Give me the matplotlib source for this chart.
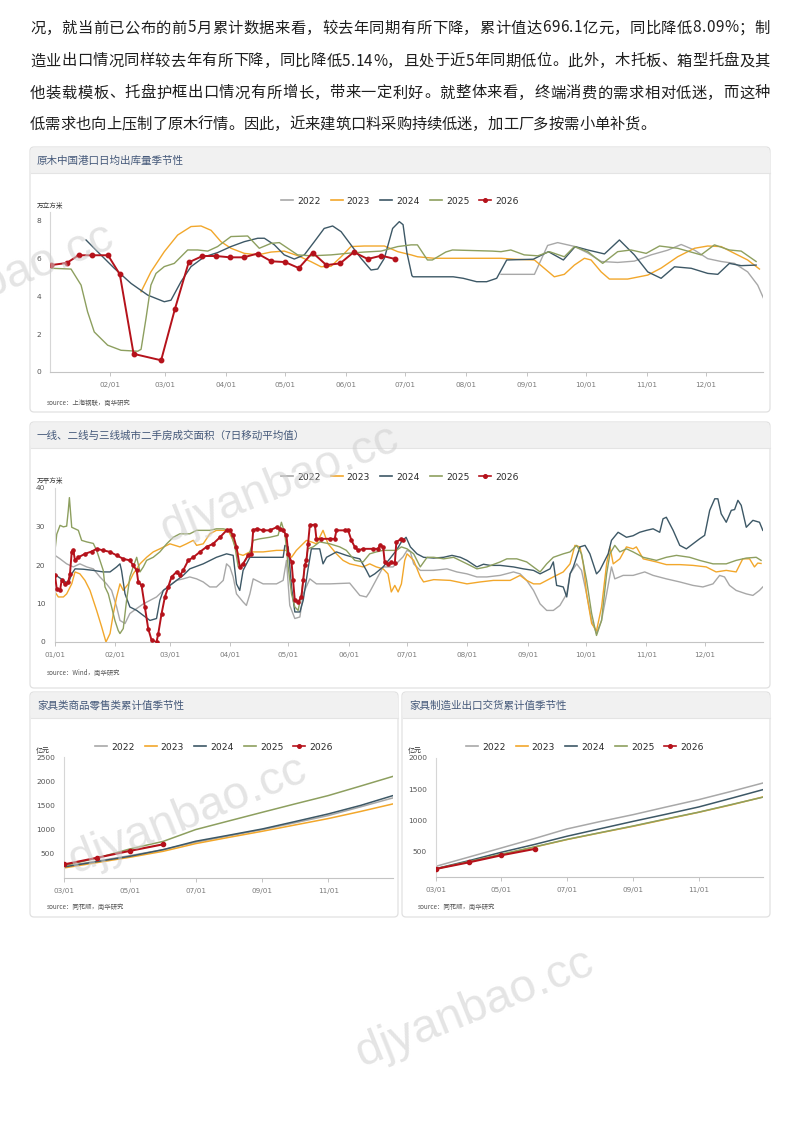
import matplotlib
matplotlib.use('Agg')
import matplotlib.pyplot as plt
from matplotlib.patches import FancyBboxPatch, Rectangle
from matplotlib.lines import Line2D
from matplotlib.legend import Legend
from matplotlib.font_manager import FontProperties
import pandas as pd

plt.rcParams['font.family'] = ['Noto Sans CJK SC', 'DejaVu Sans']

# ---------------- text ----------------
para_lines = [
    "况，就当前已公布的前5月累计数据来看，较去年同期有所下降，累计值达696.1亿元，同比降低8.09%；制",
    "造业出口情况同样较去年有所下降，同比降低5.14%，且处于近5年同期低位。此外，木托板、箱型托盘及其",
    "他装载模板、托盘护框出口情况有所增长，带来一定利好。就整体来看，终端消费的需求相对低迷，而这种",
    "低需求也向上压制了原木行情。因此，近来建筑口料采购持续低迷，加工厂多按需小单补货。",
]
titles = ["原木中国港口日均出库量季节性",
          "一线、二线与三线城市二手房成交面积（7日移动平均值）",
          "家具类商品零售类累计值季节性",
          "家具制造业出口交货累计值季节性"]
units = ["万立方米", "万平方米", "亿元", "亿元"]
sources = ["source：上海钢联，南华研究", "source：Wind，南华研究",
           "source：同花顺，南华研究", "source：同花顺，南华研究"]

years = ['2022', '2023', '2024', '2025', '2026']
colors = ['#a8a8a8', '#f2a72b', '#3d5866', '#8d9f5f', '#b5121b']

month_ticks = ['01-01', '02-01', '03-01', '04-01', '05-01', '06-01',
               '07-01', '08-01', '09-01', '10-01', '11-01', '12-01']
month_labels = [m.replace('-', '/') for m in month_ticks]

# ---------------- chart 1: log port outbound (day-of-year, value) ----------------
log_2022 = [(229.8,5.17),(246.8,5.17),(253.5,6.7),(258.6,6.85),(267.1,6.65),(273.9,6.3),(280.7,5.85),
            (289.1,5.8),(297.6,5.87),(306.1,6.2),(314.6,6.45),(321.4,6.75),(328.2,6.45),(334.9,6.0),
            (341.7,5.85),(348.5,5.75),(355.2,5.3),(360.3,4.6),(363.7,3.8)]
log_2023 = [(46.8,4.25),(51.8,5.3),(58.6,6.37),(65.4,7.25),(72.2,7.7),(77.3,7.73),(82.4,7.5),(87.4,6.9),
            (92.5,6.55),(99.3,6.28),(106.1,6.2),(112.9,6.35),(119.6,6.4),(126.4,6.16),(133.2,5.84),
            (138.3,5.57),(143.4,5.6),(148.5,6.1),(153.5,6.64),(160.3,6.67),(170.5,6.67),(177.3,6.37),
            (184.1,6.2),(187.4,6.1),(195.9,6.02),(212.9,6.02),(229.8,6.02),(236.6,5.97),(246.8,5.93),
            (251.8,5.49),(256.9,5.04),(262.0,5.17),(267.1,5.66),(272.2,6.02),(275.6,5.93),(280.7,5.3),
            (284.9,4.92),(294.2,4.92),(304.4,5.13),(311.2,5.5),(319.6,6.1),(328.2,6.55),(334.9,6.67),
            (341.7,6.64),(348.5,6.28),(355.2,5.93),(361.2,5.45)]
log_2024 = [(18.8,6.99),(24.7,6.37),(33.2,5.49),(41.7,4.69),(50.2,4.07),(58.6,3.72),(62.0,3.8),(67.1,4.78),
            (72.2,5.58),(79.0,6.1),(85.7,6.32),(92.5,6.64),(99.3,6.9),(106.1,7.08),(109.5,7.08),
            (114.6,6.73),(119.6,6.2),(124.7,5.98),(129.8,6.2),(134.9,6.9),(139.9,7.6),(144.2,7.73),
            (148.5,7.43),(153.5,6.73),(158.6,6.02),(163.7,5.4),(167.1,5.45),(170.5,6.02),(174.7,7.6),
            (178.1,7.96),(180.0,7.8),(182.0,6.3),(184.5,5.1),(185.1,5.04),(205.5,5.04),(210.6,4.96),
            (217.4,4.78),(222.5,4.78),(227.6,4.96),(232.7,5.93),(246.2,5.97),(253.9,6.37),(261.5,5.93),
            (267.5,6.64),(273.9,6.46),(282.4,6.25),(290.0,6.99),(297.6,6.2),(304.4,5.3),(311.2,4.96),
            (318.0,5.57),(326.5,5.49),(334.9,5.22),(340.0,5.17),(345.9,5.75),(351.9,5.63),(359.5,5.66)]
log_2025 = [(1.3,5.49),(11.2,5.45),(16.3,4.6),(19.6,3.19),(23.0,2.12),(29.8,1.42),(36.6,1.15),(45.1,1.1),
            (46.8,1.2),(49.3,2.83),(51.8,4.6),(54.4,5.22),(58.6,5.58),(63.7,5.75),(70.5,6.46),(75.6,6.46),
            (80.7,6.4),(85.7,6.64),(92.5,7.17),(101.0,7.2),(106.9,6.55),(112.9,6.81),(117.1,6.85),
            (126.4,6.2),(133.2,6.15),(143.4,6.2),(153.5,6.3),(160.3,6.35),(168.8,6.4),(177.3,6.64),
            (184.1,6.73),(187.3,6.73),(192.4,5.93),(194.9,5.93),(201.7,6.35),(205.1,6.46),(225.5,6.4),
            (229.8,6.37),(234.8,6.46),(241.6,6.2),(248.5,6.15),(254.4,6.37),(262.0,6.1),(267.1,6.64),
            (273.9,6.37),(281.5,5.75),(289.1,6.37),(295.9,6.46),(303.6,6.28),(310.4,6.67),(319.6,6.55),
            (331.5,6.2),(338.3,6.73),(345.9,6.46),(351.9,6.4),(359.5,5.85)]
log_2026 = [(1,5.66),(9,5.77),(15,6.18),(22,6.18),(30,6.18),(36,5.17),(43,0.96),(57,0.62),(64,3.33),
            (71,5.8),(78,6.14),(85,6.14),(92,6.07),(99,6.07),(106,6.27),(113,5.86),(120,5.82),(127,5.5),
            (134,6.32),(141,5.66),(148,5.75),(155,6.35),(162,5.98),(169,6.16),(176,5.98)]

# ---------------- chart 2: second-hand housing 7d MA (day-of-year, value) ----------------
house_2022 = [(0,22.5),(2.6,21.6),(6,20.3),(9.4,19.5),(12.8,20.3),(16.3,19.5),(19.7,19.0),(23.1,16.9),
              (26.5,15.1),(29.1,13.4),(31.7,9.1),(33.4,5.6),(36,4.8),(38.5,7.4),(42,8.7),(45.4,9.9),
              (48.8,10.8),(52.2,11.7),(55.7,13.4),(59.1,14.7),(62.5,16.0),(65.9,16.4),(69.3,16.9),
              (72.8,16.4),(76.2,15.6),(79.6,14.3),(83,14.3),(86.5,16.0),(88.2,20.3),(89.9,19.5),
              (91.6,16.9),(93.3,12.5),(96.7,10.4),(98.4,9.5),(100.2,12.5),(101.9,16.4),(107,15.1),
              (113.9,15.1),(117.3,16.0),(119,21.2),(120.7,9.5),(123.3,6.1),(125.9,6.5),(127.6,12.5),
              (131,16.4),(134.4,15.1),(141.3,15.1),(151.5,15.3),(156.7,12.1),(160.1,11.7),(161.8,13.0),
              (168.7,19.5),(173.8,19.5),(178.9,22.1),(181,23.8),(182.7,23.4),(184.4,20.3),(187.8,18.6),
              (194.7,18.6),(201.5,19.0),(206.6,18.2),(211.8,17.7),(216.9,16.9),(222,16.9),(228.9,17.3),
              (235.7,18.2),(239.1,17.7),(242.5,16.0),(246,13.4),(249.4,9.9),(252.8,8.2),(256.2,8.2),
              (259.6,9.5),(263.1,12.5),(264.8,17.7),(268.2,20.3),(270.7,18.6),(273.3,12.5),(275.9,5.6),
              (278.4,2.2),(281,5.6),(283.6,12.5),(286.1,19.5),(287.8,16.4),(292.1,17.3),(297.2,17.3),
              (303.2,18.2),(307.5,17.3),(314.3,16.4),(321.2,15.6),(328,14.7),(333.1,14.3),(338.3,15.1),
              (341.7,17.3),(344.2,16.9),(346.8,14.7),(350.2,13.4),(355.4,12.5),(358.8,12.1),(362.2,13.4),
              (363.9,14.3)]
house_2023 = [(0,13.0),(1.7,11.7),(4.3,11.7),(6,12.5),(8.6,15.1),(10.3,18.2),(12.8,17.7),(15.4,16.0),
              (18,13.4),(21.4,8.2),(24,3.9),(26.2,0.0),(28.3,2.2),(30,7.4),(31.7,11.7),(33.4,15.1),
              (35.1,13.4),(37.7,15.1),(40.2,17.7),(43.7,20.3),(47.1,22.0),(50.5,23.4),(53.9,24.2),
              (59.1,25.5),(64.2,24.7),(67.6,25.5),(71.1,26.4),(72.8,25.1),(76.2,25.5),(79.6,28.1),
              (83,29.0),(86.5,29.0),(89,29.0),(91.6,26.4),(94.2,22.9),(96.7,22.5),(100.2,23.4),
              (107,23.4),(113.9,23.8),(119,23.8),(121.6,22.0),(124.1,23.8),(126.7,25.1),(129.3,26.4),
              (131.8,26.0),(134.4,25.5),(137.8,29.0),(140.4,25.5),(144.7,22.9),(148.1,21.2),(151.5,20.3),
              (155,19.9),(158.4,19.5),(161.8,20.3),(165.2,19.5),(168.7,19.0),(171.2,17.7),(172.9,13.0),
              (174.7,14.7),(176.4,13.0),(178.1,15.1),(179.8,21.2),(181,22.9),(184.4,21.2),(187.8,16.9),
              (189.5,15.6),(194.7,16.2),(203.2,16.0),(211.8,15.1),(218.6,15.6),(225.4,16.0),(234,16.0),
              (239.1,17.3),(242.5,16.0),(246,15.1),(249.4,15.1),(256.2,16.9),(261.3,18.2),(264.8,20.3),
              (267.3,25.1),(269.9,24.7),(271.6,20.3),(273.3,12.5),(275.9,4.8),(278.4,2.9),(281,9.1),
              (283.6,20.3),(285.3,24.7),(287,20.3),(290.4,21.6),(293.8,24.7),(297.2,24.2),(298.9,24.7),
              (302.4,21.6),(309.2,20.8),(314.3,20.1),(321.2,20.1),(328,19.9),(334.8,19.5),(339.9,18.2),
              (345.1,18.6),(350.2,18.2),(353.6,21.6),(357.1,21.6),(359.6,19.5),(361.3,20.5),(363,20.4)]
house_2024 = [(0,17.7),(1.7,16.9),(4.3,16.0),(6.8,15.1),(8.6,17.7),(10.3,19.0),(14.6,18.9),(19.7,18.6),
              (24.8,18.2),(28.3,18.2),(31.7,19.5),(33.4,20.3),(34.2,18.6),(36,12.5),(38.5,9.1),(42,8.2),
              (45.4,6.9),(48.8,5.6),(52.2,6.1),(53.9,10.8),(55.7,13.4),(59.1,14.7),(62.5,16.0),(65.9,17.3),
              (69.3,19.0),(76.2,20.3),(83,22.0),(88.2,22.9),(91.6,22.5),(93.3,15.1),(95,13.4),(96.7,18.6),
              (100.2,22.0),(107,22.0),(113.9,22.0),(117.3,22.0),(118.2,25.1),(119.9,24.7),(121.6,14.3),
              (123.3,7.8),(125.9,7.8),(127.6,10.8),(130.1,19.0),(131.8,24.2),(136.1,24.2),(137.8,20.3),
              (139.6,22.0),(144.7,23.4),(149.8,22.5),(153.3,22.0),(156.7,21.6),(160.1,18.6),(161.8,16.9),
              (164.4,17.7),(168.7,19.5),(172.1,21.6),(175.5,23.8),(178.1,26.0),(180.5,27.2),(182.7,24.7),
              (186.1,22.9),(189.5,22.0),(194.7,21.8),(199.8,22.0),(204.1,22.5),(208.4,22.0),(211.8,21.2),
              (216.9,19.5),(220.3,20.2),(223.7,19.9),(228.9,19.9),(235.7,19.5),(240.8,19.0),(246,18.6),
              (249.4,17.7),(254.5,19.0),(256.2,20.8),(257.9,14.7),(261.3,14.3),(263.1,11.7),(264.8,17.7),
              (266.5,19.5),(269.9,24.7),(272.5,25.1),(275,22.9),(278.4,17.7),(280.1,18.6),(282.7,21.2),
              (284.4,22.9),(286.1,26.4),(289.5,28.5),(293.8,27.2),(297.2,27.6),(300.6,28.5),(304.1,29.0),
              (307.5,29.4),(310.9,28.5),(312.6,32.0),(314.3,32.4),(317.8,29.0),(321.2,25.1),(324.6,24.2),
              (328,25.5),(331.4,26.8),(334,27.7),(336.6,34.2),(339.2,37.2),(340.8,37.2),(342.5,33.3),
              (345.1,31.1),(347.7,34.2),(349.4,34.4),(351.1,36.8),(352.8,35.5),(355.4,29.8),(358.8,31.6),
              (362.2,31.1),(363.9,29.0)]
house_2025 = [(0,23.8),(0.9,28.0),(2.6,30.3),(4.3,29.9),(6,30.1),(6.8,34.0),(7.4,37.5),(8.6,29.8),
              (12,29.0),(13.7,26.4),(16.3,26.0),(19.7,25.6),(21.4,23.8),(23.1,21.2),(24.8,18.6),
              (25.7,14.3),(27.4,12.5),(29.1,9.1),(30.8,5.6),(32.5,3.0),(33.4,2.2),(35.1,3.5),(36.8,10.8),
              (38.5,16.9),(40.2,19.5),(42,22.0),(43.7,18.2),(45.4,19.5),(47.1,21.2),(50.5,22.0),
              (53.9,23.4),(57.4,25.5),(60.8,27.2),(64.2,28.1),(69.3,28.1),(72.8,29.0),(79.6,29.0),
              (83,29.4),(86.5,29.4),(89.9,29.0),(92.5,24.7),(94.2,19.5),(96.7,20.3),(100.2,23.4),
              (101.9,26.4),(105.3,26.8),(110.4,27.2),(114.7,27.7),(116.4,31.1),(118.2,28.1),(119.9,19.5),
              (121.6,12.5),(123.3,9.1),(125,8.2),(126.7,12.5),(128.4,19.5),(130.1,24.2),(132.7,24.7),
              (136.1,26.0),(141.3,25.5),(146.4,24.7),(149.8,23.8),(154.1,21.2),(158.4,20.8),(161.8,22.9),
              (165.2,23.4),(168.7,23.8),(172.1,23.8),(175.5,23.8),(178.1,24.7),(181,24.2),(184.4,22.9),
              (187.8,19.5),(191.3,22.0),(194.7,22.0),(199.8,21.6),(204.9,22.0),(211.8,20.3),(216.9,19.0),
              (222,19.5),(228.9,20.8),(232.3,21.6),(237.4,21.6),(242.5,20.8),(249.4,18.2),(252.8,20.3),
              (256.2,22.0),(261.3,22.9),(264.8,23.4),(268.2,25.1),(270.7,22.9),(273.3,16.0),(275.9,7.4),
              (278.4,1.7),(281,5.6),(283.6,17.7),(285.3,22.9),(287.8,25.1),(290.4,23.4),(293.8,24.2),
              (297.2,23.4),(302.4,22.0),(309.2,21.2),(314.3,22.0),(319.5,22.5),(326.3,22.0),(331.4,21.2),
              (338.3,20.3),(345.1,20.3),(350.2,21.2),(355.4,21.8),(360.5,22.0),(363,21.2)]
house_2026 = [(0,17.3),(0.9,13.8),(2.6,13.4),(3.4,16.0),(5.1,15.1),(6.8,15.6),(7.7,17.7),(8.6,23.4),
              (9.4,23.8),(10.3,21.2),(12,22.0),(15.4,22.9),(18.8,23.5),(21.4,24.2),(24.8,23.8),(28.3,23.4),
              (31.7,22.5),(35.1,21.6),(38.5,21.2),(40.2,19.9),(42,18.6),(42.8,15.6),(44.5,14.7),(46.2,9.1),
              (47.9,3.5),(49.7,0.4),(52.2,0.0),(53.1,2.2),(54.8,7.4),(56.5,11.7),(58.2,14.3),(59.9,16.9),
              (62.5,18.2),(64.2,17.3),(65.9,18.6),(68.5,21.2),(71.1,22.0),(74.5,23.4),(77.9,24.7),
              (81.3,25.5),(84.8,27.2),(88.2,29.0),(89.9,29.0),(91.6,27.7),(93.3,24.7),(95,19.5),(96.7,20.3),
              (99.3,22.5),(101,22.9),(101.9,29.0),(103.6,29.4),(107,29.0),(110.4,29.0),(113.9,29.8),
              (115.6,29.4),(117.3,29.0),(119,27.7),(119.9,22.9),(121.6,20.8),(122.4,16.0),(123.3,10.8),
              (125,10.4),(126.7,11.7),(127.6,16.0),(128.4,19.9),(129.3,21.2),(130.1,25.5),(131,30.3),
              (133.6,30.5),(134.4,26.8),(137,26.8),(141.3,26.8),(143.8,26.8),(144.7,29.0),(149,29.0),
              (150.7,29.0),(152.4,26.4),(154.1,24.7),(155.8,23.8),(158.4,24.2),(163.5,24.2),(166.1,24.2),
              (167,25.1),(168.7,24.7),(169.5,20.8),(171.2,20.2),(172.9,20.8),(174.7,20.4),(175.5,26.0),
              (178.1,26.8),(178.9,26.4)]

# ---------------- charts 3/4: monthly cumulative values ----------------
cum_dates = ['03-01', '04-01', '05-01', '06-01', '07-01', '08-01', '09-01', '10-01', '11-01', '12-01', '12-31']
cum_ticks = ['03-01', '05-01', '07-01', '09-01', '11-01']
retail_2022 = [241, 350, 462, 586, 738, 870, 1000, 1140, 1290, 1470, 1655]
retail_2023 = [207, 320, 428, 552, 710, 840, 966, 1095, 1228, 1375, 1531]
retail_2024 = [228, 340, 448, 586, 759, 885, 1014, 1165, 1324, 1500, 1703]
retail_2025 = [255, 414, 600, 757, 1000, 1180, 1359, 1530, 1703, 1900, 2100]
retail_2026 = [280, 420, 560, 696.1]
export_2022 = [271, 420, 564, 715, 867, 985, 1096, 1215, 1335, 1465, 1601]
export_2023 = [229, 343, 457, 578, 697, 805, 910, 1020, 1133, 1250, 1378]
export_2024 = [234, 362, 495, 620, 750, 870, 989, 1100, 1218, 1355, 1495]
export_2025 = [232, 348, 465, 582, 700, 808, 915, 1025, 1135, 1255, 1375]
export_2026 = [229, 335, 447, 548]


def doy(md):
    return pd.Timestamp('2023-' + md).dayofyear - 1


W, H = 800, 1121
fig = plt.figure(figsize=(W / 100, H / 100), dpi=100)
fig.patch.set_facecolor('white')

bg = fig.add_axes([0, 0, 1, 1], zorder=-5)
bg.set_xlim(0, W)
bg.set_ylim(H, 0)
bg.axis('off')

# ---- paragraph (justified) ----
fp = FontProperties(family=['Noto Sans CJK SC', 'DejaVu Sans'], size=11)
renderer = fig.canvas.get_renderer()
line_y = [28, 61, 93, 124]
for i, line in enumerate(para_lines):
    ws = [renderer.get_text_width_height_descent(c, fp, ismath=False)[0] for c in line]
    total = sum(ws)
    gap = (740 - total) / (len(line) - 1) if i < 3 else 0.0
    x = 30.0
    for c, w in zip(line, ws):
        bg.text(x, line_y[i], c, fontproperties=fp, ha='left', va='center', color='#1e1e1e')
        x += w + gap


# ---- cards ----
def card(x0, y0, x1, y1, hb, title):
    bg.add_patch(FancyBboxPatch((x0, y0), x1 - x0, y1 - y0, boxstyle='round,pad=0,rounding_size=4',
                                fc='white', ec='#e1e1e1', lw=0.9))
    bg.add_patch(FancyBboxPatch((x0 + 0.5, y0 + 0.5), x1 - x0 - 1, hb - y0, boxstyle='round,pad=0,rounding_size=4',
                                fc='#f1f1f1', ec='none'))
    bg.add_patch(Rectangle((x0 + 0.5, y0 + 6), x1 - x0 - 1, hb - y0 - 6, fc='#f1f1f1', ec='none'))
    bg.plot([x0 + 0.5, x1 - 0.5], [hb, hb], color='#e4e4e4', lw=0.8)
    bg.text(x0 + 7, (y0 + hb) / 2 + 0.5, title, fontsize=7.6, color='#45597a', ha='left', va='center')


card(30, 147, 770, 412, 173, titles[0])
card(30, 422, 770, 688, 448, titles[1])
card(30, 692, 398, 917, 718, titles[2])
card(402, 692, 770, 917, 718, titles[3])


def add_axes_px(x0, y0, x1, y1):
    return fig.add_axes([x0 / W, 1 - y1 / H, (x1 - x0) / W, (y1 - y0) / H])


def style(ax, xlim, ylim, xt, xl, yt, ypad):
    ax.set_xlim(*xlim)
    ax.set_ylim(*ylim)
    ax.patch.set_alpha(0)
    for s in ['top', 'right']:
        ax.spines[s].set_visible(False)
    ax.spines['left'].set_color('#d6d6d6')
    ax.spines['left'].set_linewidth(0.8)
    ax.spines['bottom'].set_color('#c4c4c4')
    ax.spines['bottom'].set_linewidth(0.8)
    ax.set_xticks(xt)
    ax.set_xticklabels(xl, fontsize=5.2, color='#7a7a7a', family='DejaVu Sans')
    ax.set_yticks(yt)
    ax.set_yticklabels([str(v) for v in yt], fontsize=5.4, color='#555555', family='DejaVu Sans')
    ax.tick_params(axis='x', length=3, color='#c4c4c4', width=0.7, pad=4)
    ax.tick_params(axis='y', length=0, pad=ypad)


def plot_pairs(ax, pairs, color, lw=1.0, z=2, **kw):
    xs = [p[0] for p in pairs]
    ys = [p[1] for p in pairs]
    ax.plot(xs, ys, color=color, lw=lw, zorder=z, solid_joinstyle='round', **kw)


def legend(cx, cy):
    handles = []
    for y, c in zip(years, colors):
        if y == '2026':
            handles.append(Line2D([], [], color=c, lw=1.2, marker='o', ms=2.6))
        else:
            handles.append(Line2D([], [], color=c, lw=1.2))
    leg = Legend(bg, handles, years, loc='center', bbox_to_anchor=(cx / W, 1 - cy / H),
                 bbox_transform=fig.transFigure, ncol=5, frameon=False,
                 prop=FontProperties(family='DejaVu Sans', size=6.6), handlelength=1.3,
                 handletextpad=0.45, columnspacing=1.1, labelcolor='#2a2a2a')
    bg.add_artist(leg)


# ---- chart 1 ----
ax1 = add_axes_px(50, 212, 763, 372)
style(ax1, (0.5, 363), (0, 8.47), [doy(m) for m in month_ticks[1:]], month_labels[1:], [0, 2, 4, 6, 8], 6.5)
for pairs, c in zip([log_2022, log_2023, log_2024, log_2025], colors[:4]):
    plot_pairs(ax1, pairs, c)
plot_pairs(ax1, log_2026, colors[4], lw=1.4, z=5, marker='o', ms=3.2)
legend(400, 201)
bg.text(37, 206, units[0], fontsize=4.8, color='#333333', ha='left', va='center')
bg.text(47, 403, sources[0], fontsize=4.6, color='#555555', ha='left', va='center')

# ---- chart 2 ----
ax2 = add_axes_px(55, 488, 763, 642)
style(ax2, (0, 364), (0, 40), [doy(m) for m in month_ticks], month_labels, [0, 10, 20, 30, 40], 7)
for pairs, c in zip([house_2022, house_2023, house_2024, house_2025], colors[:4]):
    plot_pairs(ax2, pairs, c)
plot_pairs(ax2, house_2026, colors[4], lw=1.4, z=5, marker='o', ms=2.3)
legend(400, 477)
bg.text(37, 481, units[1], fontsize=4.8, color='#333333', ha='left', va='center')
bg.text(47, 673, sources[1], fontsize=4.6, color='#555555', ha='left', va='center')

# ---- charts 3 & 4 ----
cx = [doy(d) for d in cum_dates]
ct = [doy(d) for d in cum_ticks]
cl = [d.replace('-', '/') for d in cum_ticks]

ax3 = add_axes_px(64, 757, 393, 878)
style(ax3, (59, 364), (0, 2500), ct, cl, [500, 1000, 1500, 2000, 2500], 6.5)
for vals, c in zip([retail_2022, retail_2023, retail_2024, retail_2025], colors[:4]):
    ax3.plot(cx[:len(vals)], vals, color=c, lw=1.1, zorder=2)
ax3.plot(cx[:len(retail_2026)], retail_2026, color=colors[4], lw=1.5, marker='o', ms=3, zorder=5)
legend(214, 747)
bg.text(36, 751, units[2], fontsize=5, color='#333333', ha='left', va='center')
bg.text(47, 907, sources[2], fontsize=4.6, color='#555555', ha='left', va='center')

ax4 = add_axes_px(436, 758, 763, 877)
style(ax4, (59, 364), (100, 2000), ct, cl, [500, 1000, 1500, 2000], 6.5)
for vals, c in zip([export_2022, export_2023, export_2024, export_2025], colors[:4]):
    ax4.plot(cx[:len(vals)], vals, color=c, lw=1.1, zorder=2)
ax4.plot(cx[:len(export_2026)], export_2026, color=colors[4], lw=1.5, marker='o', ms=3, zorder=5)
legend(585, 747)
bg.text(408, 751, units[3], fontsize=5, color='#333333', ha='left', va='center')
bg.text(418, 907, sources[3], fontsize=4.6, color='#555555', ha='left', va='center')

# ---- watermarks ----
for (wx, wy) in [(-5, 282), (280, 484), (188, 815), (475, 1008)]:
    fig.text(wx / W, 1 - wy / H, 'djyanbao.cc', fontsize=34, family='Liberation Sans',
             color='#cfcfcf', alpha=0.55, rotation=22, ha='center', va='center', zorder=20)

fig.savefig('out.png', dpi=100, facecolor='white')
